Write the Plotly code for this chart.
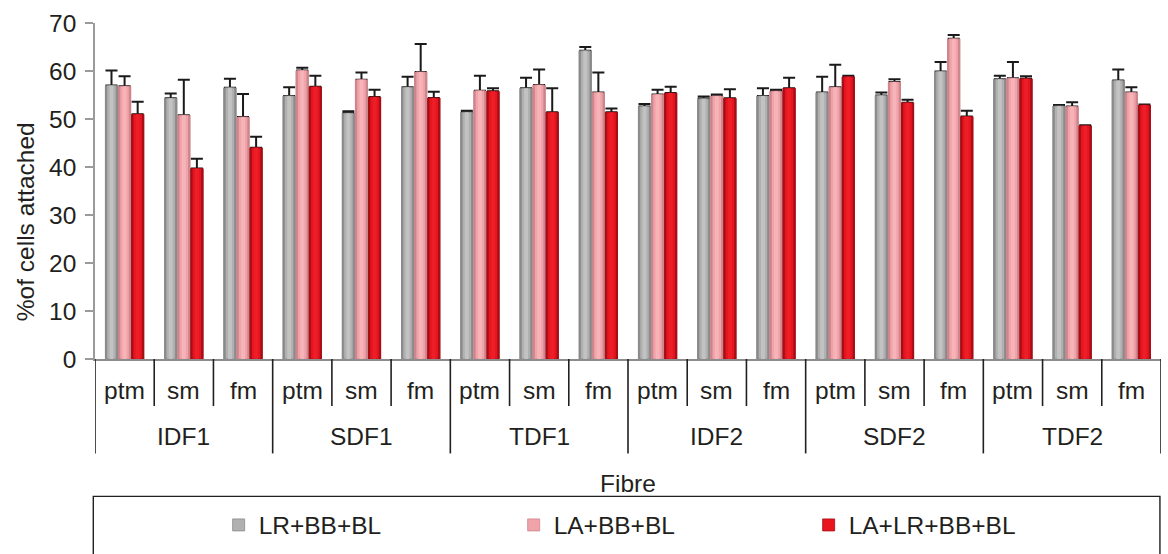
import plotly.graph_objects as go

# ---- data -------------------------------------------------------------
fibres = ["IDF1", "SDF1", "TDF1", "IDF2", "SDF2", "TDF2"]
media = ["ptm", "sm", "fm"]
series_names = ["LR+BB+BL", "LA+BB+BL", "LA+LR+BB+BL"]

lr_bb_bl = [57.0, 54.3, 56.5, 54.8, 51.2, 56.6, 51.4, 56.4, 64.2,
            52.6, 54.2, 54.8, 55.5, 54.9, 59.9, 58.3, 52.7, 58.0]
lr_bb_bl_err = [3.1, 1.0, 1.9, 1.8, 0.4, 2.2, 0.3, 2.2, 0.8,
                0.5, 0.5, 1.6, 3.3, 0.6, 2.0, 0.7, 0.2, 2.3]

la_bb_bl = [56.8, 50.8, 50.4, 60.1, 58.2, 59.8, 55.9, 57.1, 55.5,
            55.1, 54.8, 55.8, 56.6, 57.7, 66.7, 58.5, 52.6, 55.5]
la_bb_bl_err = [2.1, 7.4, 4.8, 0.6, 1.5, 5.8, 3.1, 3.2, 4.2,
                1.0, 0.3, 0.3, 4.7, 0.6, 0.8, 3.4, 0.9, 1.1]

la_lr_bb_bl = [51.0, 39.7, 44.0, 56.7, 54.6, 54.4, 55.8, 51.4, 51.4,
               55.4, 54.3, 56.4, 58.8, 53.4, 50.5, 58.4, 48.6, 52.9]
la_lr_bb_bl_err = [2.6, 2.0, 2.3, 2.3, 1.5, 1.3, 0.6, 5.0, 0.8,
                   1.3, 1.9, 2.2, 0.2, 0.6, 1.2, 0.5, 0.1, 0.1]

y_ticks = [0, 10, 20, 30, 40, 50, 60, 70]

# ---- styling ----------------------------------------------------------
FONT = "Liberation Sans, Arial, sans-serif"
TXT = "#231f20"
FS = 24.5

edge_colors = ["#8a8a8a", "#cc858c", "#a50f17"]
fill_colors = ["#b0b0b0", "#f0a3a9", "#e8141e"]
shine_colors = ["#c2c2c2", "#f6b4b9", "#ec1f28"]

BAR_W = 0.221
offsets = [-0.332, -0.111, 0.110]

categories = [f"{f} {m}" for f in fibres for m in media]
n = len(categories)
xs = list(range(n))

series = [
    (lr_bb_bl, lr_bb_bl_err),
    (la_bb_bl, la_bb_bl_err),
    (la_lr_bb_bl, la_lr_bb_bl_err),
]

fig = go.Figure()

for k, (vals, errs) in enumerate(series):
    off = offsets[k]
    # base bar carrying the (upper-only) error bars
    fig.add_trace(go.Bar(
        x=xs, y=vals, width=BAR_W, offset=off,
        marker=dict(color=edge_colors[k], line=dict(width=0)),
        error_y=dict(type="data", array=errs, arrayminus=[0] * n,
                     symmetric=False, color="#1a1a1a", thickness=2, width=6),
        showlegend=False, hoverinfo="skip",
    ))
    # edge layer on top hides the lower cross-bar of the error bar
    fig.add_trace(go.Bar(
        x=xs, y=vals, width=BAR_W, offset=off,
        marker=dict(color=edge_colors[k], line=dict(width=0)),
        showlegend=False, hoverinfo="skip",
    ))
    # main body of the bar
    inner_w = BAR_W * 0.72
    fig.add_trace(go.Bar(
        x=xs, y=vals, width=inner_w, offset=off + (BAR_W - inner_w) / 2,
        marker=dict(color=fill_colors[k], line=dict(color=edge_colors[k], width=0.8)),
        name=series_names[k], showlegend=True,
    ))
    # soft highlight stripe
    shine_w = BAR_W * 0.3
    fig.add_trace(go.Bar(
        x=xs, y=vals, width=shine_w, offset=off + (BAR_W - shine_w) / 2,
        marker=dict(color=shine_colors[k], line=dict(width=0)),
        showlegend=False, hoverinfo="skip",
    ))

# ---- two-level category axis: dividers and labels -----------------------
shapes = []
inner_bottom = -0.140
outer_bottom = -0.281
for b in range(n + 1):
    is_outer = (b % len(media) == 0)
    shapes.append(dict(
        type="line", xref="x", yref="paper",
        x0=b - 0.5, x1=b - 0.5, y0=0, y1=outer_bottom if is_outer else inner_bottom,
        line=dict(color="#231f20", width=1.6),
    ))

# legend frame
shapes.append(dict(
    type="rect", xref="paper", yref="paper",
    x0=-0.0016, x1=0.999, y0=-0.409, y1=-0.62,
    line=dict(color="#231f20", width=1.4), fillcolor="rgba(0,0,0,0)", layer="below",
))

annotations = []
for i, cat in enumerate(categories):
    annotations.append(dict(
        x=i, y=-0.095, xref="x", yref="paper", text=media[i % len(media)],
        showarrow=False, xanchor="center", yanchor="middle",
        font=dict(family=FONT, size=FS, color=TXT),
    ))
for g, f in enumerate(fibres):
    annotations.append(dict(
        x=g * len(media) + (len(media) - 1) / 2, y=-0.231, xref="x", yref="paper",
        text=f, showarrow=False, xanchor="center", yanchor="middle",
        font=dict(family=FONT, size=FS, color=TXT),
    ))
annotations.append(dict(
    x=0.5, y=-0.372, xref="paper", yref="paper", text="Fibre",
    showarrow=False, xanchor="center", yanchor="middle",
    font=dict(family=FONT, size=FS, color=TXT),
))
annotations.append(dict(
    x=-0.0657, y=0.41, xref="paper", yref="paper", text="%of cells attached",
    textangle=-90, showarrow=False, xanchor="center", yanchor="middle",
    font=dict(family=FONT, size=FS, color=TXT),
))

fig.update_layout(
    width=1168, height=554,
    margin=dict(l=95, r=7, t=23, b=191),
    paper_bgcolor="white", plot_bgcolor="white",
    barmode="overlay",
    font=dict(family=FONT, size=FS, color=TXT),
    shapes=shapes, annotations=annotations,
    showlegend=True,
    legend=dict(
        orientation="h", x=0.116, y=-0.494, xref="paper", yref="paper",
        xanchor="left", yanchor="middle",
        entrywidth=250, entrywidthmode="pixels",
        font=dict(family=FONT, size=FS, color=TXT),
        bgcolor="rgba(0,0,0,0)", borderwidth=0,
        traceorder="normal",
    ),
    xaxis=dict(
        type="linear", range=[-0.5, n - 0.5], showticklabels=False,
        showgrid=False, zeroline=False, ticks="",
        showline=True, linecolor="#8c8c8c", linewidth=1.5,
    ),
    yaxis=dict(
        range=[0, 70], tickvals=y_ticks, showgrid=False, zeroline=False,
        showline=True, linecolor="#9a9a9a", linewidth=1.5,
        ticks="outside", ticklen=8, tickwidth=1.5, tickcolor="#9a9a9a",
        ticklabelstandoff=4,
        tickfont=dict(family=FONT, size=FS, color=TXT),
    ),
)

fig.write_html("out.html")
